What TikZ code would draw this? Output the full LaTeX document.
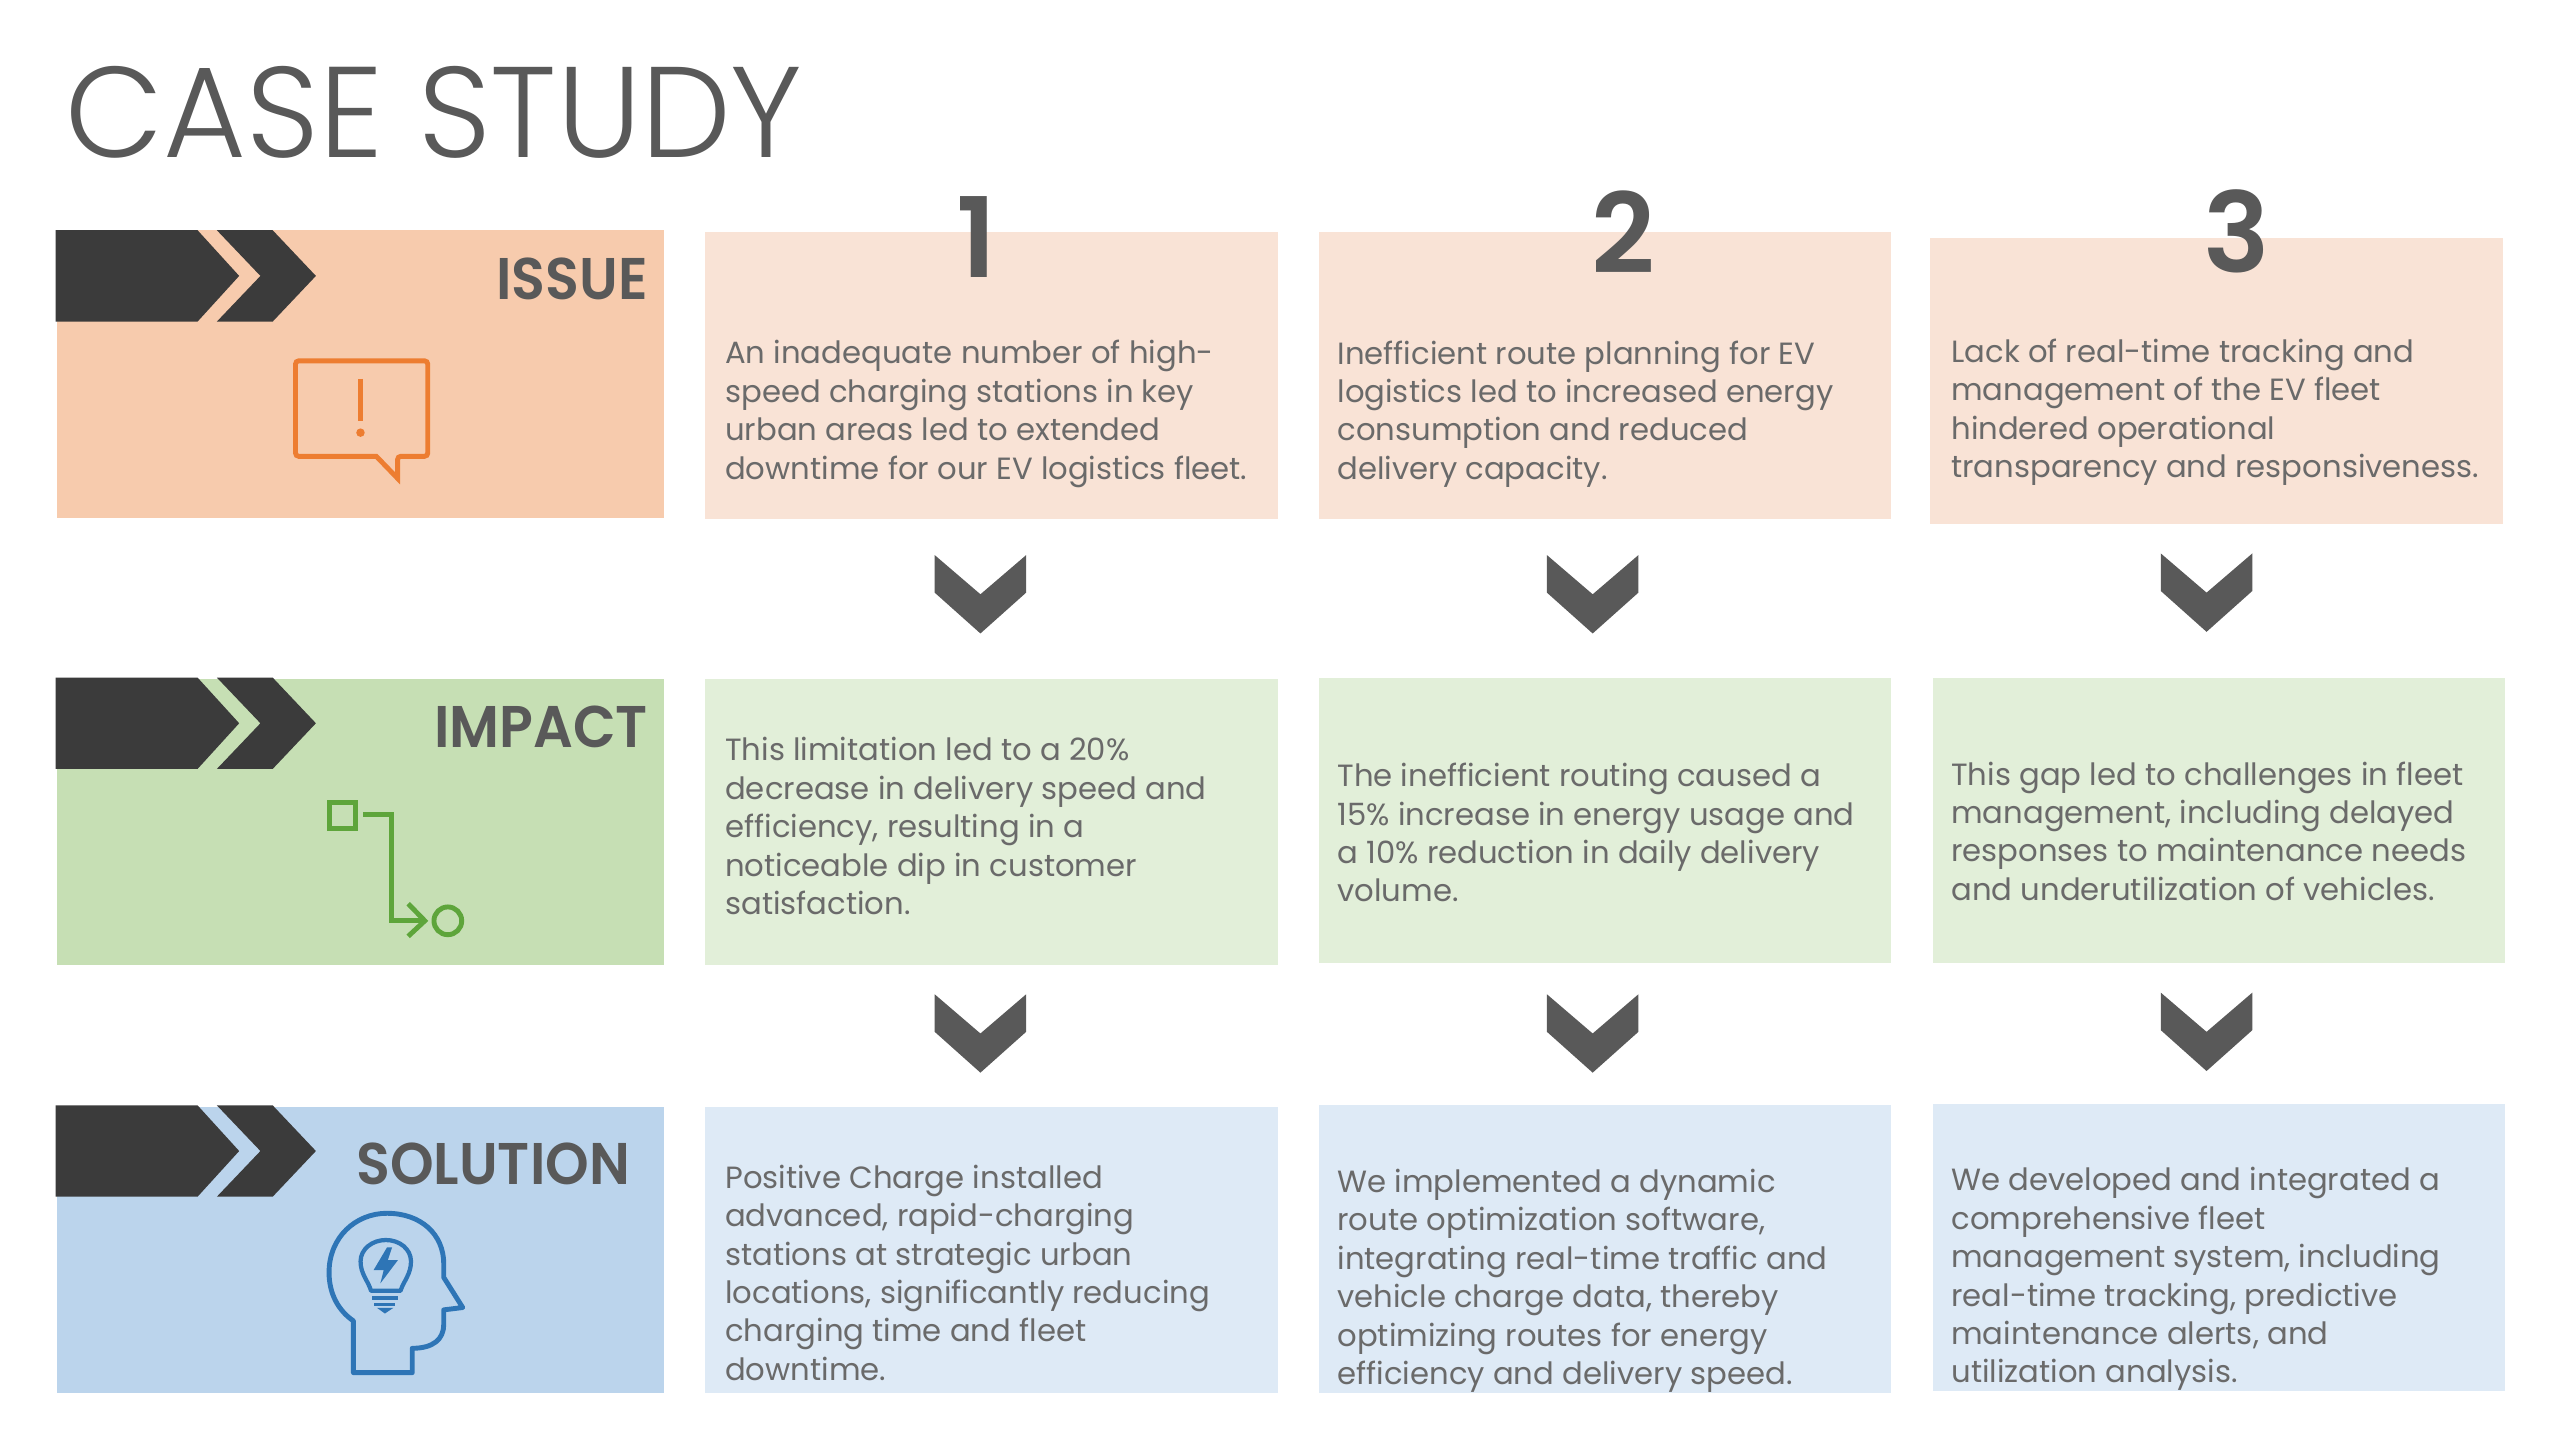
\documentclass[tikz,border=0pt]{standalone}
\usepackage{fontspec}
\setmainfont{Poppins}
\newfontfamily\titlefont[FakeStretch=0.986]{Poppins Light}
\newfontfamily\headfont[FakeStretch=0.945]{Poppins SemiBold}
\newfontfamily\numfont{Poppins SemiBold}
\definecolor{inkbody}{HTML}{6A6A6A}
\definecolor{inkhead}{HTML}{595959}
\definecolor{darkchev}{HTML}{3B3B3B}
\definecolor{downchev}{HTML}{595959}
\definecolor{issueL}{HTML}{F7CBAD}
\definecolor{issueR}{HTML}{F9E3D6}
\definecolor{impactL}{HTML}{C6DFB4}
\definecolor{impactR}{HTML}{E2EFD9}
\definecolor{solL}{HTML}{BBD4EC}
\definecolor{solR}{HTML}{DEEAF6}
\definecolor{iconO}{HTML}{ED7D31}
\definecolor{iconG}{HTML}{5EA53B}
\definecolor{iconB}{HTML}{2E75B6}
\tikzset{
  bodytext/.style={anchor=west,align=left,inner sep=0pt,text=inkbody,font=\fontsize{18.8}{23.5}\selectfont},
  rowhead/.style={anchor=east,inner sep=0pt,text=inkhead,font=\headfont\fontsize{36}{40}\selectfont},
  numhead/.style={inner sep=0pt,text=inkhead,font=\numfont\fontsize{68}{68}\selectfont},
  iconline/.style={line width=3pt,line join=miter}
}
\newcommand{\darkarrows}[1]{%
  \fill[darkchev] (34,#1) -- (121,#1) -- (146.5,#1+28) -- (121,#1+56) -- (34,#1+56) -- cycle;
  \fill[darkchev] (132.8,#1) -- (167,#1) -- (193.5,#1+28) -- (167,#1+56) -- (132.8,#1+56) -- (159.5,#1+28) -- cycle;}
\newcommand{\downchevron}[2]{%
  \fill[downchev] (#1-28,#2) -- (#1,#2+24) -- (#1+28,#2) -- (#1+28,#2+23) -- (#1,#2+48) -- (#1-28,#2+23) -- cycle;}
\begin{document}
\begin{tikzpicture}[x=1pt,y=-1pt]
\useasboundingbox[fill=white] (0,0) rectangle (1568,882);
% row boxes
\fill[issueL] (35,141) rectangle (407,317);
\fill[impactL] (35,416) rectangle (407,591);
\fill[solL] (35,678) rectangle (407,853);
\fill[issueR] (432,142) rectangle (783,318);
\fill[issueR] (808,142) rectangle (1158,318);
\fill[issueR] (1182,146) rectangle (1533,321);
\fill[impactR] (432,416) rectangle (783,591);
\fill[impactR] (808,415) rectangle (1158,590);
\fill[impactR] (1184,415) rectangle (1534,590);
\fill[solR] (432,678) rectangle (783,853);
\fill[solR] (808,677) rectangle (1158,853);
\fill[solR] (1184,676) rectangle (1534,852);
\node[anchor=base west,inner sep=0pt,text=inkhead,font=\titlefont\fontsize{79}{79}\selectfont] (title) at (40,96.5) {CASE STUDY};
\darkarrows{141}
\darkarrows{415}
\darkarrows{677}
\node[rowhead] (issue) at (397,171) {ISSUE};
\node[rowhead] (impact) at (397,445) {IMPACT};
\node[rowhead] (solution) at (386,713) {SOLUTION};
\node[numhead] (n1) at (598,145) {1};
\node[numhead] (n2) at (994,142) {2};
\node[numhead] (n3) at (1370,142) {3};
\downchevron{600.5}{340}
\downchevron{975.5}{340}
\downchevron{1351.5}{339}
\downchevron{600.5}{609}
\downchevron{975.5}{609}
\downchevron{1351.5}{608}
% text
\node[bodytext] (t11) at (444,253.5) {An inadequate number of high-\\speed charging stations in key\\urban areas led to extended\\downtime for our EV logistics fleet.};
\node[bodytext] (t12) at (819,253.5) {Inefficient route planning for EV\\logistics led to increased energy\\consumption and reduced\\delivery capacity.};
\node[bodytext] (t13) at (1195,252.5) {Lack of real-time tracking and\\management of the EV fleet\\hindered operational\\transparency and responsiveness.};
\node[bodytext] (t21) at (444,506) {This limitation led to a 20\%\\decrease in delivery speed and\\efficiency, resulting in a\\noticeable dip in customer\\satisfaction.};
\node[bodytext] (t22) at (819,510) {The inefficient routing caused a\\15\% increase in energy usage and\\a 10\% reduction in daily delivery\\volume.};
\node[bodytext] (t23) at (1195,509) {This gap led to challenges in fleet\\management, including delayed\\responses to maintenance needs\\and underutilization of vehicles.};
\node[bodytext] (t31) at (444,779.5) {Positive Charge installed\\advanced, rapid-charging\\stations at strategic urban\\locations, significantly reducing\\charging time and fleet\\downtime.};
\node[bodytext] (t32) at (819,784.5) {We implemented a dynamic\\route optimization software,\\integrating real-time traffic and\\vehicle charge data, thereby\\optimizing routes for energy\\efficiency and delivery speed.};
\node[bodytext] (t33) at (1195,783.5) {We developed and integrated a\\comprehensive fleet\\management system, including\\real-time tracking, predictive\\maintenance alerts, and\\utilization analysis.};
% issue icon
\draw[iconO,iconline,rounded corners=2pt] (181,221) -- (262,221) -- (262,279.5) -- (243.5,279.5) [sharp corners] -- (243.5,293) -- (230.5,279.5) [rounded corners=2pt] -- (181,279.5) -- cycle;
\draw[iconO,line width=3pt] (220.8,232) -- (220.8,258);
\fill[iconO] (220.8,265) circle (2.6);
% impact icon
\draw[iconG,iconline] (202,491.5) rectangle (217.5,507.5);
\draw[iconG,iconline] (222.4,499) -- (239.6,499) -- (239.6,564) -- (260,564);
\draw[iconG,iconline] (250,553.5) -- (260.2,564) -- (250,573.5);
\draw[iconG,iconline] (274.3,564) circle (8.5);
% solution icon
\begin{scope}[shift={(18.27pt,-667.8pt)},x=.2574pt,y=-.2047pt]
\draw[iconB,line width=3pt,line join=round] (770,845) -- (770,690)
  .. controls (735,660) and (712,610) .. (712,545)
  .. controls (712,440) and (775,368) .. (850,368)
  .. controls (930,368) and (985,430) .. (985,520)
  -- (985,560) -- (1030,650) -- (985,657) -- (985,700)
  .. controls (985,745) and (960,772) .. (910,772)
  -- (910,845) -- cycle;
\draw[iconB,line width=2.6pt,line join=round] (812,600)
  .. controls (805,570) and (787,550) .. (787,512)
  .. controls (787,475) and (815,448) .. (847,448)
  .. controls (880,448) and (907,475) .. (907,512)
  .. controls (907,550) and (890,570) .. (882,600) -- cycle;
\fill[iconB] (850,470) -- (818,538) -- (842,538) -- (834,578) -- (876,508) -- (852,508) -- (862,470) -- cycle;
\fill[iconB] (815,617) rectangle (875,628);
\fill[iconB] (820,635) rectangle (870,646);
\fill[iconB] (826,651) -- (865,651) -- (845,668) -- cycle;
\end{scope}
\end{tikzpicture}
\end{document}
